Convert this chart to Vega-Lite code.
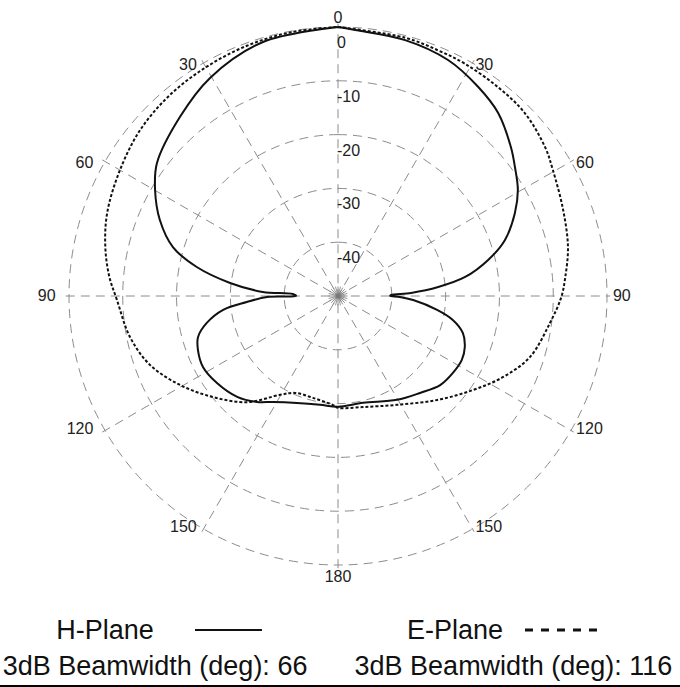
{
  "$schema": "https://vega.github.io/schema/vega-lite/v6.json",
  "width": 676,
  "height": 592,
  "autosize": {"type": "none"},
  "padding": {"left": 0, "top": 0, "right": 4, "bottom": 95},
  "background": "white",
  "config": {"view": {"stroke": null}, "font": "Liberation Sans"},
  "datasets": {
    "rings": [{"db": 0}, {"db": -10}, {"db": -20}, {"db": -30}, {"db": -40}],
    "spokes": [{"a": 0}, {"a": 30}, {"a": 60}, {"a": 90}, {"a": 120}, {"a": 150}],
    "star": [{"a": 0}, {"a": 15}, {"a": 30}, {"a": 45}, {"a": 60}, {"a": 75}, {"a": 90}, {"a": 105}, {"a": 120}, {"a": 135}, {"a": 150}, {"a": 165}],
    "anglabels": [
      {"a": 0, "t": "0"}, {"a": 30, "t": "30"}, {"a": 60, "t": "60"}, {"a": 90, "t": "90"}, {"a": 120, "t": "120"}, {"a": 150, "t": "150"},
      {"a": 180, "t": "180"}, {"a": 210, "t": "150"}, {"a": 240, "t": "120"}, {"a": 270, "t": "90"}, {"a": 300, "t": "60"}, {"a": 330, "t": "30"}
    ],
    "radlabels": [{"db": 0, "t": "0"}, {"db": -10, "t": "-10"}, {"db": -20, "t": "-20"}, {"db": -30, "t": "-30"}, {"db": -40, "t": "-40"}],
    "hplane": [
      {"a": 0, "db": 0}, {"a": 3.7, "db": -0.46}, {"a": 14.7, "db": -0.82}, {"a": 25.0, "db": -1.6}, {"a": 33.8, "db": -3.2},
      {"a": 41.2, "db": -4.8}, {"a": 49.3, "db": -7.6}, {"a": 53.9, "db": -9.3}, {"a": 59.5, "db": -11.2}, {"a": 64.9, "db": -13.7},
      {"a": 71.5, "db": -17.3}, {"a": 76.5, "db": -21.3}, {"a": 81.5, "db": -26.1}, {"a": 84.9, "db": -31.3}, {"a": 87.6, "db": -36.4},
      {"a": 88.9, "db": -40.1}, {"a": 90, "db": -40.3}, {"a": 90.9, "db": -38.5}, {"a": 93.1, "db": -36.0}, {"a": 98.0, "db": -31.4},
      {"a": 101.8, "db": -28.2}, {"a": 106.5, "db": -25.8}, {"a": 111.9, "db": -24.6}, {"a": 117.3, "db": -24.1}, {"a": 123.8, "db": -24.3},
      {"a": 131.1, "db": -24.8}, {"a": 139.8, "db": -26.4}, {"a": 150.4, "db": -27.8}, {"a": 166.8, "db": -29.6}, {"a": 180, "db": -29.4},
      {"a": 189.4, "db": -29.5}, {"a": 201, "db": -28.7}, {"a": 211.5, "db": -26.9}, {"a": 217.4, "db": -25.2}, {"a": 225, "db": -23.5},
      {"a": 234.3, "db": -22.3}, {"a": 242.3, "db": -21.65}, {"a": 248.9, "db": -22.1}, {"a": 253.7, "db": -22.9}, {"a": 258.4, "db": -25.1},
      {"a": 263.1, "db": -28.5}, {"a": 266.2, "db": -33.0}, {"a": 269.2, "db": -36.8}, {"a": 270, "db": -42.2}, {"a": 272.5, "db": -41.6},
      {"a": 273.1, "db": -36.0}, {"a": 276.9, "db": -29.8}, {"a": 281.6, "db": -23.2}, {"a": 286.5, "db": -18.0}, {"a": 293.1, "db": -14.0},
      {"a": 300.1, "db": -10.7}, {"a": 306.3, "db": -8.25}, {"a": 318.6, "db": -5.6}, {"a": 329.6, "db": -3.0}, {"a": 343.55, "db": -0.78},
      {"a": 360, "db": 0}
    ],
    "eplane": [
      {"a": 0, "db": 0}, {"a": 14.6, "db": -0.4}, {"a": 22.3, "db": -0.7}, {"a": 28.6, "db": -0.8}, {"a": 37.4, "db": -1.1},
      {"a": 45.6, "db": -1.4}, {"a": 54.3, "db": -2.6}, {"a": 59.6, "db": -3.7}, {"a": 69.1, "db": -5.2}, {"a": 78, "db": -6.3},
      {"a": 85.2, "db": -7.6}, {"a": 90.3, "db": -8.5}, {"a": 97.3, "db": -10.3}, {"a": 107.6, "db": -12.55}, {"a": 116.1, "db": -15.8},
      {"a": 124.8, "db": -19.4}, {"a": 136.4, "db": -23.3}, {"a": 151.6, "db": -27.0}, {"a": 167.3, "db": -28.85}, {"a": 180, "db": -29.2},
      {"a": 182.6, "db": -29.7}, {"a": 193.8, "db": -30.5}, {"a": 203.9, "db": -30.3}, {"a": 210.4, "db": -28.7}, {"a": 220.6, "db": -24.0},
      {"a": 231.1, "db": -20.1}, {"a": 240.6, "db": -16.3}, {"a": 249.8, "db": -12.8}, {"a": 258.8, "db": -10.6}, {"a": 269, "db": -8.9},
      {"a": 275, "db": -7.3}, {"a": 281.9, "db": -5.8}, {"a": 289.8, "db": -4.4}, {"a": 300, "db": -3.2}, {"a": 310, "db": -2.0},
      {"a": 320, "db": -1.3}, {"a": 330, "db": -0.9}, {"a": 340, "db": -0.5}, {"a": 350, "db": -0.2}, {"a": 360, "db": 0}
    ]
  },
  "layer": [
    {
      "data": {"name": "rings"},
      "transform": [{"calculate": "datum.db + 50", "as": "r"}],
      "mark": {"type": "arc", "theta": 0, "theta2": 6.283185307179586, "filled": false, "stroke": "#8c8c8c", "strokeWidth": 1, "strokeDash": [9, 6]},
      "encoding": {
        "radius": {"field": "r", "type": "quantitative", "stack": null, "scale": {"type": "linear", "domain": [0, 50], "range": [0, 269], "zero": true}, "legend": null}
      }
    },
    {
      "data": {"name": "spokes"},
      "transform": [
        {"calculate": "50.6 * sin(datum.a * PI / 180)", "as": "ex"},
        {"calculate": "50.6 * cos(datum.a * PI / 180)", "as": "ey"},
        {"calculate": "-50.6 * sin(datum.a * PI / 180)", "as": "sx"},
        {"calculate": "-50.6 * cos(datum.a * PI / 180)", "as": "sy"}
      ],
      "mark": {"type": "rule", "stroke": "#8c8c8c", "strokeWidth": 1, "strokeDash": [9, 6]},
      "encoding": {
        "x": {"field": "sx", "type": "quantitative", "scale": {"domain": [-62.825, 62.825], "nice": false, "zero": false}, "axis": null},
        "y": {"field": "sy", "type": "quantitative", "scale": {"domain": [-55.02, 55.02], "nice": false, "zero": false}, "axis": null},
        "x2": {"field": "ex"},
        "y2": {"field": "ey"}
      }
    },
    {
      "data": {"name": "star"},
      "transform": [
        {"calculate": "1.8 * sin(datum.a * PI / 180)", "as": "ex"},
        {"calculate": "1.8 * cos(datum.a * PI / 180)", "as": "ey"},
        {"calculate": "-1.8 * sin(datum.a * PI / 180)", "as": "sx"},
        {"calculate": "-1.8 * cos(datum.a * PI / 180)", "as": "sy"}
      ],
      "mark": {"type": "rule", "stroke": "#777777", "strokeWidth": 0.8},
      "encoding": {
        "x": {"field": "sx", "type": "quantitative", "scale": {"domain": [-62.825, 62.825], "nice": false, "zero": false}, "axis": null},
        "y": {"field": "sy", "type": "quantitative", "scale": {"domain": [-55.02, 55.02], "nice": false, "zero": false}, "axis": null},
        "x2": {"field": "ex"},
        "y2": {"field": "ey"}
      }
    },
    {
      "data": {"name": "eplane"},
      "transform": [
        {"calculate": "(datum.db + 50) * sin(datum.a * PI / 180)", "as": "x"},
        {"calculate": "(datum.db + 50) * cos(datum.a * PI / 180)", "as": "y"}
      ],
      "mark": {"type": "line", "stroke": "#111111", "strokeWidth": 2, "strokeDash": [3, 2], "interpolate": "catmull-rom"},
      "encoding": {
        "x": {"field": "x", "type": "quantitative", "scale": {"domain": [-62.825, 62.825], "nice": false, "zero": false}, "axis": null},
        "y": {"field": "y", "type": "quantitative", "scale": {"domain": [-55.02, 55.02], "nice": false, "zero": false}, "axis": null},
        "order": {"field": "a", "type": "quantitative"}
      }
    },
    {
      "data": {"name": "hplane"},
      "transform": [
        {"calculate": "(datum.db + 50) * sin(datum.a * PI / 180)", "as": "x"},
        {"calculate": "(datum.db + 50) * cos(datum.a * PI / 180)", "as": "y"}
      ],
      "mark": {"type": "line", "stroke": "#111111", "strokeWidth": 2, "interpolate": "catmull-rom"},
      "encoding": {
        "x": {"field": "x", "type": "quantitative", "scale": {"domain": [-62.825, 62.825], "nice": false, "zero": false}, "axis": null},
        "y": {"field": "y", "type": "quantitative", "scale": {"domain": [-55.02, 55.02], "nice": false, "zero": false}, "axis": null},
        "order": {"field": "a", "type": "quantitative"}
      }
    },
    {
      "data": {"name": "anglabels"},
      "transform": [
        {"filter": "datum.a > 0 && datum.a < 180"},
        {"calculate": "51.1 * sin(datum.a * PI / 180)", "as": "x"},
        {"calculate": "49.6 * cos(datum.a * PI / 180)", "as": "y"}
      ],
      "mark": {"type": "text", "align": "left", "baseline": "middle", "fontSize": 16, "fill": "#222222"},
      "encoding": {
        "x": {"field": "x", "type": "quantitative", "scale": {"domain": [-62.825, 62.825], "nice": false, "zero": false}, "axis": null},
        "y": {"field": "y", "type": "quantitative", "scale": {"domain": [-55.02, 55.02], "nice": false, "zero": false}, "axis": null},
        "text": {"field": "t", "type": "nominal"}
      }
    },
    {
      "data": {"name": "anglabels"},
      "transform": [
        {"filter": "datum.a > 180"},
        {"calculate": "52.5 * sin(datum.a * PI / 180)", "as": "x"},
        {"calculate": "49.6 * cos(datum.a * PI / 180)", "as": "y"}
      ],
      "mark": {"type": "text", "align": "right", "baseline": "middle", "fontSize": 16, "fill": "#222222"},
      "encoding": {
        "x": {"field": "x", "type": "quantitative", "scale": {"domain": [-62.825, 62.825], "nice": false, "zero": false}, "axis": null},
        "y": {"field": "y", "type": "quantitative", "scale": {"domain": [-55.02, 55.02], "nice": false, "zero": false}, "axis": null},
        "text": {"field": "t", "type": "nominal"}
      }
    },
    {
      "data": {"name": "anglabels"},
      "transform": [
        {"filter": "datum.a == 0 || datum.a == 180"},
        {"calculate": "0", "as": "x"},
        {"calculate": "datum.a == 0 ? 51.7 : -52.2", "as": "y"}
      ],
      "mark": {"type": "text", "align": "center", "baseline": "middle", "fontSize": 16, "fill": "#222222"},
      "encoding": {
        "x": {"field": "x", "type": "quantitative", "scale": {"domain": [-62.825, 62.825], "nice": false, "zero": false}, "axis": null},
        "y": {"field": "y", "type": "quantitative", "scale": {"domain": [-55.02, 55.02], "nice": false, "zero": false}, "axis": null},
        "text": {"field": "t", "type": "nominal"}
      }
    },
    {
      "data": {"name": "radlabels"},
      "transform": [{"calculate": "datum.db + 50", "as": "r"}, {"calculate": "0", "as": "x"}],
      "mark": {"type": "text", "align": "left", "baseline": "middle", "dx": -1, "dy": 16, "fontSize": 16, "fill": "#222222"},
      "encoding": {
        "x": {"field": "x", "type": "quantitative", "scale": {"domain": [-62.825, 62.825], "nice": false, "zero": false}, "axis": null},
        "y": {"field": "r", "type": "quantitative", "scale": {"domain": [-55.02, 55.02], "nice": false, "zero": false}, "axis": null},
        "text": {"field": "t", "type": "nominal"}
      }
    },
    {
      "data": {"values": [{"t": "H-Plane", "k": 1}, {"t": "E-Plane", "k": 2}, {"t": "3dB Beamwidth (deg): 66", "k": 3}, {"t": "3dB Beamwidth (deg): 116", "k": 4}]},
      "transform": [
        {"calculate": "datum.k == 1 ? -43.3 : datum.k == 2 ? 21.75 : datum.k == 3 ? -34.0 : 32.6", "as": "lx"},
        {"calculate": "datum.k <= 2 ? -62.3 : -69.0", "as": "ly"}
      ],
      "mark": {"type": "text", "align": "center", "baseline": "middle", "fontSize": 27, "fill": "#111111"},
      "encoding": {
        "x": {"field": "lx", "type": "quantitative", "scale": {"domain": [-62.825, 62.825], "nice": false, "zero": false}, "axis": null},
        "y": {"field": "ly", "type": "quantitative", "scale": {"domain": [-55.02, 55.02], "nice": false, "zero": false}, "axis": null},
        "text": {"field": "t", "type": "nominal"}
      }
    },
    {
      "data": {"values": [{"s": "H"}]},
      "transform": [
        {"calculate": "-26.58", "as": "x1"}, {"calculate": "-14.13", "as": "x2"}, {"calculate": "-62.08", "as": "ly"}
      ],
      "mark": {"type": "rule", "stroke": "#111111", "strokeWidth": 2},
      "encoding": {
        "x": {"field": "x1", "type": "quantitative", "scale": {"domain": [-62.825, 62.825], "nice": false, "zero": false}, "axis": null},
        "x2": {"field": "x2"},
        "y": {"field": "ly", "type": "quantitative", "scale": {"domain": [-55.02, 55.02], "nice": false, "zero": false}, "axis": null}
      }
    },
    {
      "data": {"values": [{"s": "E"}]},
      "transform": [
        {"calculate": "34.76", "as": "x1"}, {"calculate": "48.33", "as": "x2"}, {"calculate": "-62.08", "as": "ly"}
      ],
      "mark": {"type": "rule", "stroke": "#111111", "strokeWidth": 3, "strokeDash": [8, 8]},
      "encoding": {
        "x": {"field": "x1", "type": "quantitative", "scale": {"domain": [-62.825, 62.825], "nice": false, "zero": false}, "axis": null},
        "x2": {"field": "x2"},
        "y": {"field": "ly", "type": "quantitative", "scale": {"domain": [-55.02, 55.02], "nice": false, "zero": false}, "axis": null}
      }
    },
    {
      "data": {"values": [{"s": "border"}]},
      "transform": [
        {"calculate": "-62.9", "as": "x1"}, {"calculate": "63.6", "as": "x2"}, {"calculate": "-72.49", "as": "ly"}
      ],
      "mark": {"type": "rule", "stroke": "#000000", "strokeWidth": 2},
      "encoding": {
        "x": {"field": "x1", "type": "quantitative", "scale": {"domain": [-62.825, 62.825], "nice": false, "zero": false}, "axis": null},
        "x2": {"field": "x2"},
        "y": {"field": "ly", "type": "quantitative", "scale": {"domain": [-55.02, 55.02], "nice": false, "zero": false}, "axis": null}
      }
    }
  ]
}
